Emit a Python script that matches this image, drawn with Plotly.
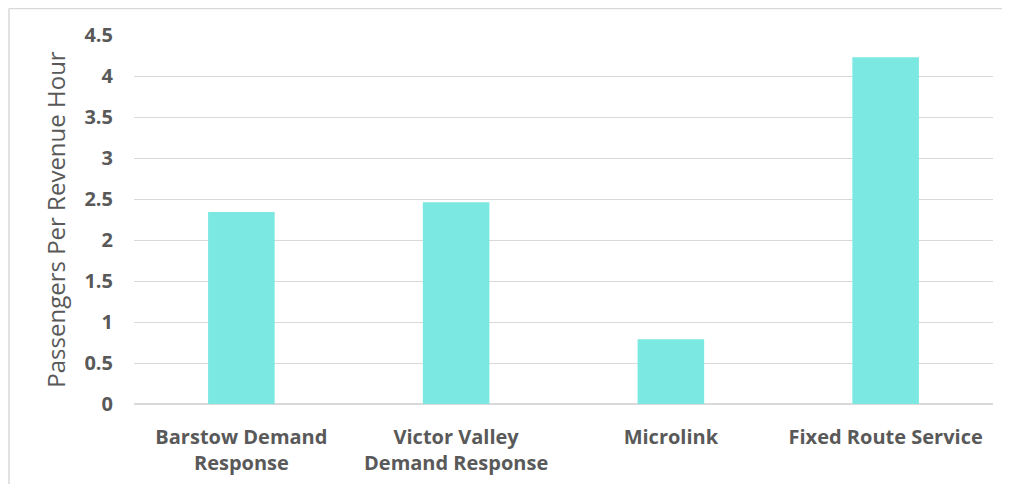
import plotly.graph_objects as go

categories = ["Barstow Demand<br>Response", "Victor Valley<br>Demand Response", "Microlink", "Fixed Route Service"]
passengers_per_hour = [2.34, 2.46, 0.79, 4.23]
y_ticks = [0, 0.5, 1, 1.5, 2, 2.5, 3, 3.5, 4, 4.5]

bar_color = "#7BE8E1"
text_color = "#595959"
grid_color = "#D9D9D9"

fig = go.Figure()
fig.add_trace(go.Bar(x=categories, y=passengers_per_hour,
                     marker=dict(color=bar_color, line=dict(width=0)),
                     width=0.31, showlegend=False))

# page has an 8px body margin all round, so keep the figure inside the window
border_left = -125 / 859
border_top = (396 - 0.5) / 369
fig.update_layout(
    width=994, height=476,
    margin=dict(l=126, r=9, t=27, b=80),
    paper_bgcolor="white", plot_bgcolor="white",
    font=dict(family="Open Sans", color=text_color),
    xaxis=dict(tickfont=dict(size=20, family="Open Sans", weight="bold"),
               showgrid=False, showline=False, ticks="", zeroline=False,
               ticklabelstandoff=19),
    yaxis=dict(range=[0, 4.5], tickvals=y_ticks, ticktext=[f"{v:g}" for v in y_ticks],
               tickfont=dict(size=20, family="Open Sans", weight="bold"),
               gridcolor=grid_color, gridwidth=1.3, zeroline=True, zerolinecolor=grid_color,
               zerolinewidth=1.5, ticklabelstandoff=20,
               title=dict(text="Passengers Per Revenue Hour", font=dict(size=24, color=text_color),
                          standoff=12)),
    shapes=[
        dict(type="line", xref="paper", yref="paper", x0=border_left, x1=1.1,
             y0=border_top, y1=border_top, line=dict(color=grid_color, width=1.5)),
        dict(type="line", xref="paper", yref="paper", x0=border_left, x1=border_left,
             y0=border_top, y1=-0.3, line=dict(color=grid_color, width=1.5)),
    ],
)

fig.write_html("out.html")
